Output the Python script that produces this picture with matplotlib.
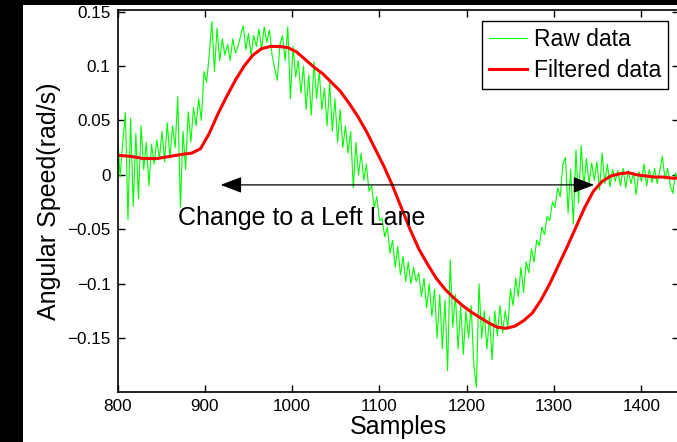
import matplotlib
matplotlib.use('Agg')
import matplotlib.pyplot as plt
from matplotlib.patches import Rectangle
import numpy as np

plt.rcParams['font.family'] = ['Liberation Sans', 'DejaVu Sans']

# raw gyro readings, one value every 3 samples starting at 800
raw_start = 800
raw_step = 3
raw_values = [
    0.038, -0.002, 0.030, 0.057, -0.041, 0.052, -0.029, 0.038, -0.022, 0.045,
    0.005, 0.030, -0.010, 0.028, 0.010, 0.032, 0.015, 0.040, 0.012, 0.048,
    0.015, 0.045, 0.025, 0.072, -0.030, 0.040, 0.005, 0.058, 0.030, 0.062,
    0.045, 0.070, 0.050, 0.095, 0.085, 0.110, 0.141, 0.095, 0.135, 0.105,
    0.125, 0.110, 0.120, 0.105, 0.125, 0.112, 0.118, 0.128, 0.137, 0.115,
    0.130, 0.110, 0.128, 0.118, 0.134, 0.115, 0.136, 0.122, 0.133, 0.110,
    0.098, 0.087, 0.120, 0.128, 0.105, 0.136, 0.070, 0.118, 0.090, 0.105,
    0.075, 0.100, 0.060, 0.092, 0.055, 0.104, 0.070, 0.095, 0.060, 0.080,
    0.045, 0.085, 0.040, 0.070, 0.030, 0.060, 0.025, 0.045, 0.020, 0.040,
    -0.012, 0.030, 0.000, 0.020, -0.005, 0.010, -0.015, -0.010, -0.030, -0.020,
    -0.042, -0.040, -0.057, -0.048, -0.072, -0.060, -0.085, -0.066, -0.092, -0.075,
    -0.098, -0.080, -0.100, -0.085, -0.098, -0.090, -0.112, -0.095, -0.122, -0.100,
    -0.130, -0.105, -0.150, -0.110, -0.160, -0.115, -0.180, -0.078, -0.140, -0.110,
    -0.160, -0.120, -0.165, -0.125, -0.150, -0.120, -0.175, -0.195, -0.100, -0.150,
    -0.125, -0.160, -0.130, -0.170, -0.125, -0.148, -0.120, -0.145, -0.125, -0.140,
    -0.105, -0.120, -0.095, -0.112, -0.085, -0.108, -0.080, -0.090, -0.068, -0.080,
    -0.060, -0.065, -0.048, -0.055, -0.038, -0.042, -0.025, -0.030, -0.012, -0.020,
    0.010, 0.016, -0.035, 0.005, -0.045, 0.023, -0.026, 0.027, -0.011, 0.015,
    -0.008, 0.011, -0.005, 0.012, -0.014, 0.020, -0.008, 0.010, -0.011, 0.005,
    -0.006, 0.004, -0.010, 0.006, -0.012, 0.004, -0.008, 0.002, -0.018, 0.003,
    -0.006, 0.010, -0.010, 0.005, -0.007, 0.006, -0.008, 0.004, 0.017, -0.004,
    0.006, -0.010, -0.017, 0.002, -0.005,
]
raw_samples = raw_start + raw_step * np.arange(len(raw_values))

# filtered signal
filt_samples = [800, 815, 830, 845, 860, 875, 885, 895, 905, 915, 925, 935, 945, 955,
                965, 975, 985, 995, 1005, 1015, 1025, 1035, 1045, 1055, 1065, 1075,
                1085, 1095, 1105, 1115, 1125, 1135, 1145, 1155, 1165, 1175, 1185,
                1195, 1205, 1215, 1225, 1235, 1245, 1255, 1265, 1275, 1285, 1295,
                1305, 1315, 1325, 1335, 1345, 1355, 1365, 1375, 1385, 1395, 1405,
                1415, 1425, 1435, 1443]
filt_values = [0.018, 0.017, 0.015, 0.015, 0.017, 0.019, 0.020, 0.024, 0.038, 0.056,
               0.072, 0.087, 0.100, 0.110, 0.116, 0.118, 0.118, 0.117, 0.113, 0.106,
               0.099, 0.093, 0.085, 0.077, 0.066, 0.054, 0.040, 0.024, 0.008, -0.010,
               -0.030, -0.050, -0.068, -0.082, -0.095, -0.105, -0.113, -0.120, -0.126,
               -0.131, -0.136, -0.140, -0.141, -0.139, -0.134, -0.127, -0.115, -0.100,
               -0.083, -0.066, -0.048, -0.030, -0.015, -0.006, -0.001, 0.001, 0.002,
               0.000, -0.001, -0.002, -0.002, -0.003, -0.003]

ytick_vals = [-0.15, -0.1, -0.05, 0, 0.05, 0.1, 0.15]
ytick_labels = ['\u22120.15', '\u22120.1', '\u22120.05', '0', '0.05', '0.1', '0.15']
xtick_vals = [800, 900, 1000, 1100, 1200, 1300, 1400]

fig = plt.figure(figsize=(6.77, 4.42), dpi=100)
fig.patch.set_facecolor('black')
fig.add_artist(Rectangle((23 / 677, 0), 1, 437 / 442, transform=fig.transFigure,
                         facecolor='white', edgecolor='none', zorder=-1))

ax = fig.add_axes([117.5 / 677, 50 / 442, 561.5 / 677, 382 / 442])
ax.plot(raw_samples, raw_values, color=(0, 1, 0), lw=0.8, label='Raw data')
ax.plot(filt_samples, filt_values, color=(1, 0, 0), lw=2.2, label='Filtered data')

ax.set_xlim(800, 1443)
ax.set_ylim(-0.1995, 0.1515)
ax.set_xticks(xtick_vals)
ax.set_yticks(ytick_vals)
ax.set_yticklabels(ytick_labels)
ax.tick_params(direction='in', length=5, width=1, top=True, right=True,
               labelsize=12.3, pad=5)
for sp in ax.spines.values():
    sp.set_linewidth(1.2)

ax.set_xlabel('Samples', fontsize=18, va='baseline')
ax.set_ylabel('Angular Speed(rad/s)', fontsize=18)
ax.xaxis.set_label_coords(0.5, -0.1105)
ax.yaxis.set_label_coords(-0.101, 0.5)

# double arrow marking the lane change
ax.annotate('', xy=(1349, -0.0092), xytext=(915, -0.0092),
            arrowprops=dict(arrowstyle='<|-|>,head_length=0.65,head_width=0.25',
                            color='black', lw=0.9, mutation_scale=20))
ax.text(869, -0.0396, 'Change to a Left Lane', fontsize=18, ha='left', va='center')

leg = ax.legend(loc='upper right', bbox_to_anchor=(0.9804, 0.9712), borderaxespad=0,
                fontsize=16.5, fancybox=False, edgecolor='black', framealpha=1,
                handlelength=1.65, handletextpad=0.3, borderpad=0.3, labelspacing=0.37)
leg.get_frame().set_linewidth(1.0)

fig.savefig('out.png', dpi=100, facecolor=fig.get_facecolor())
